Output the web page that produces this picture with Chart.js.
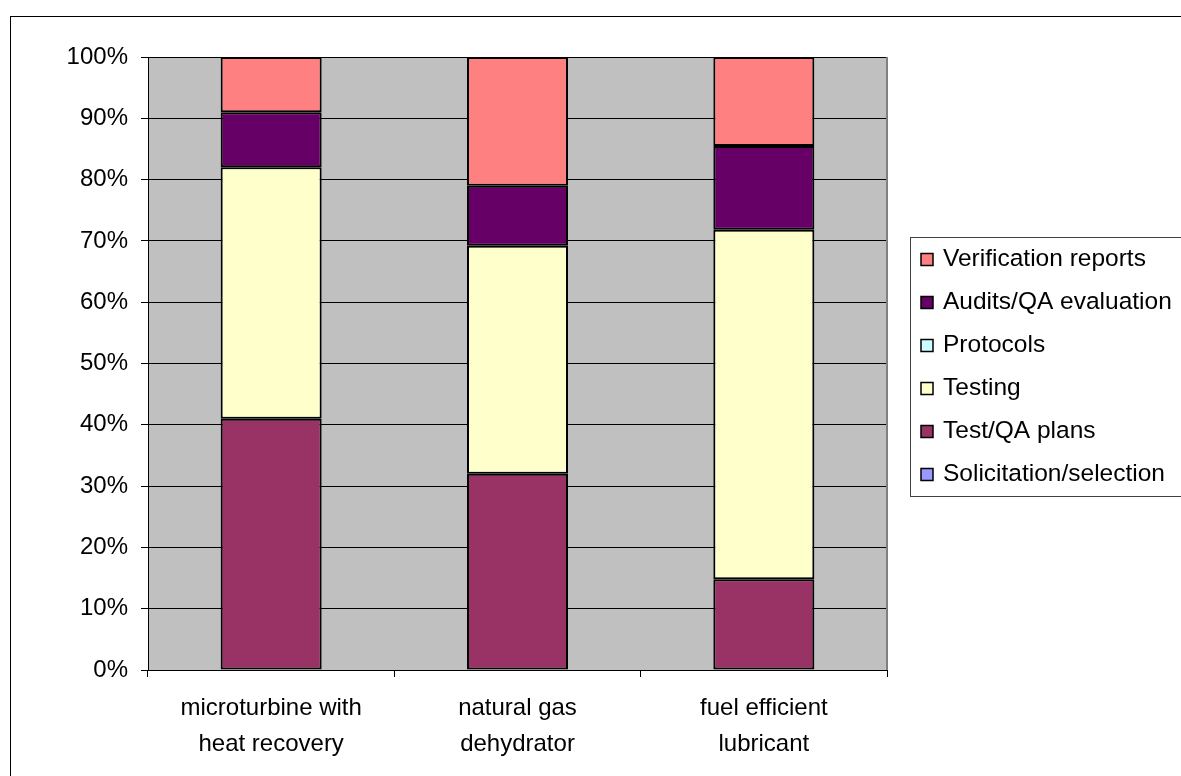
<!DOCTYPE html>
<html>
<head>
<meta charset="utf-8">
<script src="https://cdn.jsdelivr.net/npm/chart.js@4"></script>
<style>
  html, body { margin: 0; padding: 0; background: #fff; }
  canvas { display: block; }
</style>
</head>
<body>
<canvas id="c" width="1181" height="776"></canvas>
<script>
const categories = [["microturbine with", "heat recovery"], ["natural gas", "dehydrator"], ["fuel efficient", "lubricant"]];
const solicitation = [0, 0, 0];
const testQAPlans = [41, 32, 14.8];
const testing = [41, 37.2, 57];
const protocols = [0, 0, 0];
const audits = [9, 9.8, 13.7];
const verification = [9, 21, 14.5];
const yTicks = [0, 10, 20, 30, 40, 50, 60, 70, 80, 90, 100];

const seriesNames = ["Solicitation/selection", "Test/QA plans", "Testing", "Protocols", "Audits/QA evaluation", "Verification reports"];
const seriesData = [solicitation, testQAPlans, testing, protocols, audits, verification];
const seriesColors = ["#9999FF", "#993366", "#FFFFCC", "#CCFFFF", "#660066", "#FF8080"];

const datasets = seriesNames.map((n, i) => ({
  label: n,
  data: seriesData[i],
  backgroundColor: seriesColors[i],
  borderColor: "#000",
  borderWidth: 2,
  borderSkipped: false,
  barPercentage: 0.41,
  categoryPercentage: 1.0
}));

const frame = {
  id: 'frame',
  beforeDraw(chart) {
    const ctx = chart.ctx, a = chart.chartArea;
    ctx.save();
    ctx.fillStyle = '#fff';
    ctx.fillRect(0, 0, chart.width, chart.height);
    ctx.strokeStyle = '#000';
    ctx.lineWidth = 1;
    ctx.strokeRect(10.5, 16.5, chart.width + 20, chart.height + 20);
    ctx.fillStyle = '#C0C0C0';
    ctx.fillRect(a.left, a.top, a.right - a.left, a.bottom - a.top);
    ctx.restore();
  },
  afterDatasetsDraw(chart) {
    const ctx = chart.ctx, a = chart.chartArea;
    ctx.save();
    ctx.strokeStyle = '#808080';
    ctx.lineWidth = 2;
    ctx.beginPath();
    ctx.moveTo(a.right, a.top);
    ctx.lineTo(a.right, a.bottom);
    ctx.stroke();
    ctx.restore();
  },
  afterDraw(chart) {
    const ctx = chart.ctx;
    ctx.save();
    ctx.strokeStyle = '#404040';
    ctx.lineWidth = 1;
    ctx.fillStyle = '#fff';
    ctx.fillRect(910.5, 237.5, 300, 259);
    ctx.strokeRect(910.5, 237.5, 300, 259);
    ctx.font = '24.5px "Liberation Sans", Arial, sans-serif';
    ctx.textBaseline = 'alphabetic';
    const ds = chart.data.datasets.slice().reverse();
    ds.forEach((d, i) => {
      const base = 266 + i * 43;
      ctx.fillStyle = d.backgroundColor;
      ctx.fillRect(921, base - 12.5, 12, 12);
      ctx.strokeStyle = '#000';
      ctx.lineWidth = 1.5;
      ctx.strokeRect(921, base - 12.5, 12, 12);
      ctx.fillStyle = '#000';
      ctx.fillText(d.label, 943, base);
    });
    ctx.restore();
  }
};

new Chart(document.getElementById('c'), {
  type: 'bar',
  data: { labels: categories, datasets },
  plugins: [frame],
  options: {
    responsive: false,
    animation: false,
    devicePixelRatio: 1,
    layout: { padding: { top: 57, right: 294, left: 0, bottom: 0 } },
    plugins: { legend: { display: false }, tooltip: { enabled: false } },
    scales: {
      x: {
        stacked: true,
        afterFit(s) { s.height = 106; },
        grid: { offset: true, drawOnChartArea: false, drawTicks: true, tickLength: 7, color: '#000', lineWidth: 1 },
        border: { display: true, color: '#000', width: 1 },
        ticks: {
          color: '#000', padding: 13, maxRotation: 0, autoSkip: false,
          font: { family: '"Liberation Sans", Arial, sans-serif', size: 24, lineHeight: '36px' }
        }
      },
      y: {
        stacked: true,
        min: 0, max: 100,
        afterFit(s) { s.width = 148; },
        afterBuildTicks(s) { s.ticks = yTicks.map(v => ({ value: v })); },
        grid: { color: '#000', lineWidth: 1, drawTicks: true, tickLength: 7 },
        border: { display: true, color: '#000', width: 1 },
        ticks: {
          color: '#000', padding: 13,
          font: { family: '"Liberation Sans", Arial, sans-serif', size: 24 },
          callback: v => v + '%'
        }
      }
    }
  }
});
</script>
</body>
</html>
